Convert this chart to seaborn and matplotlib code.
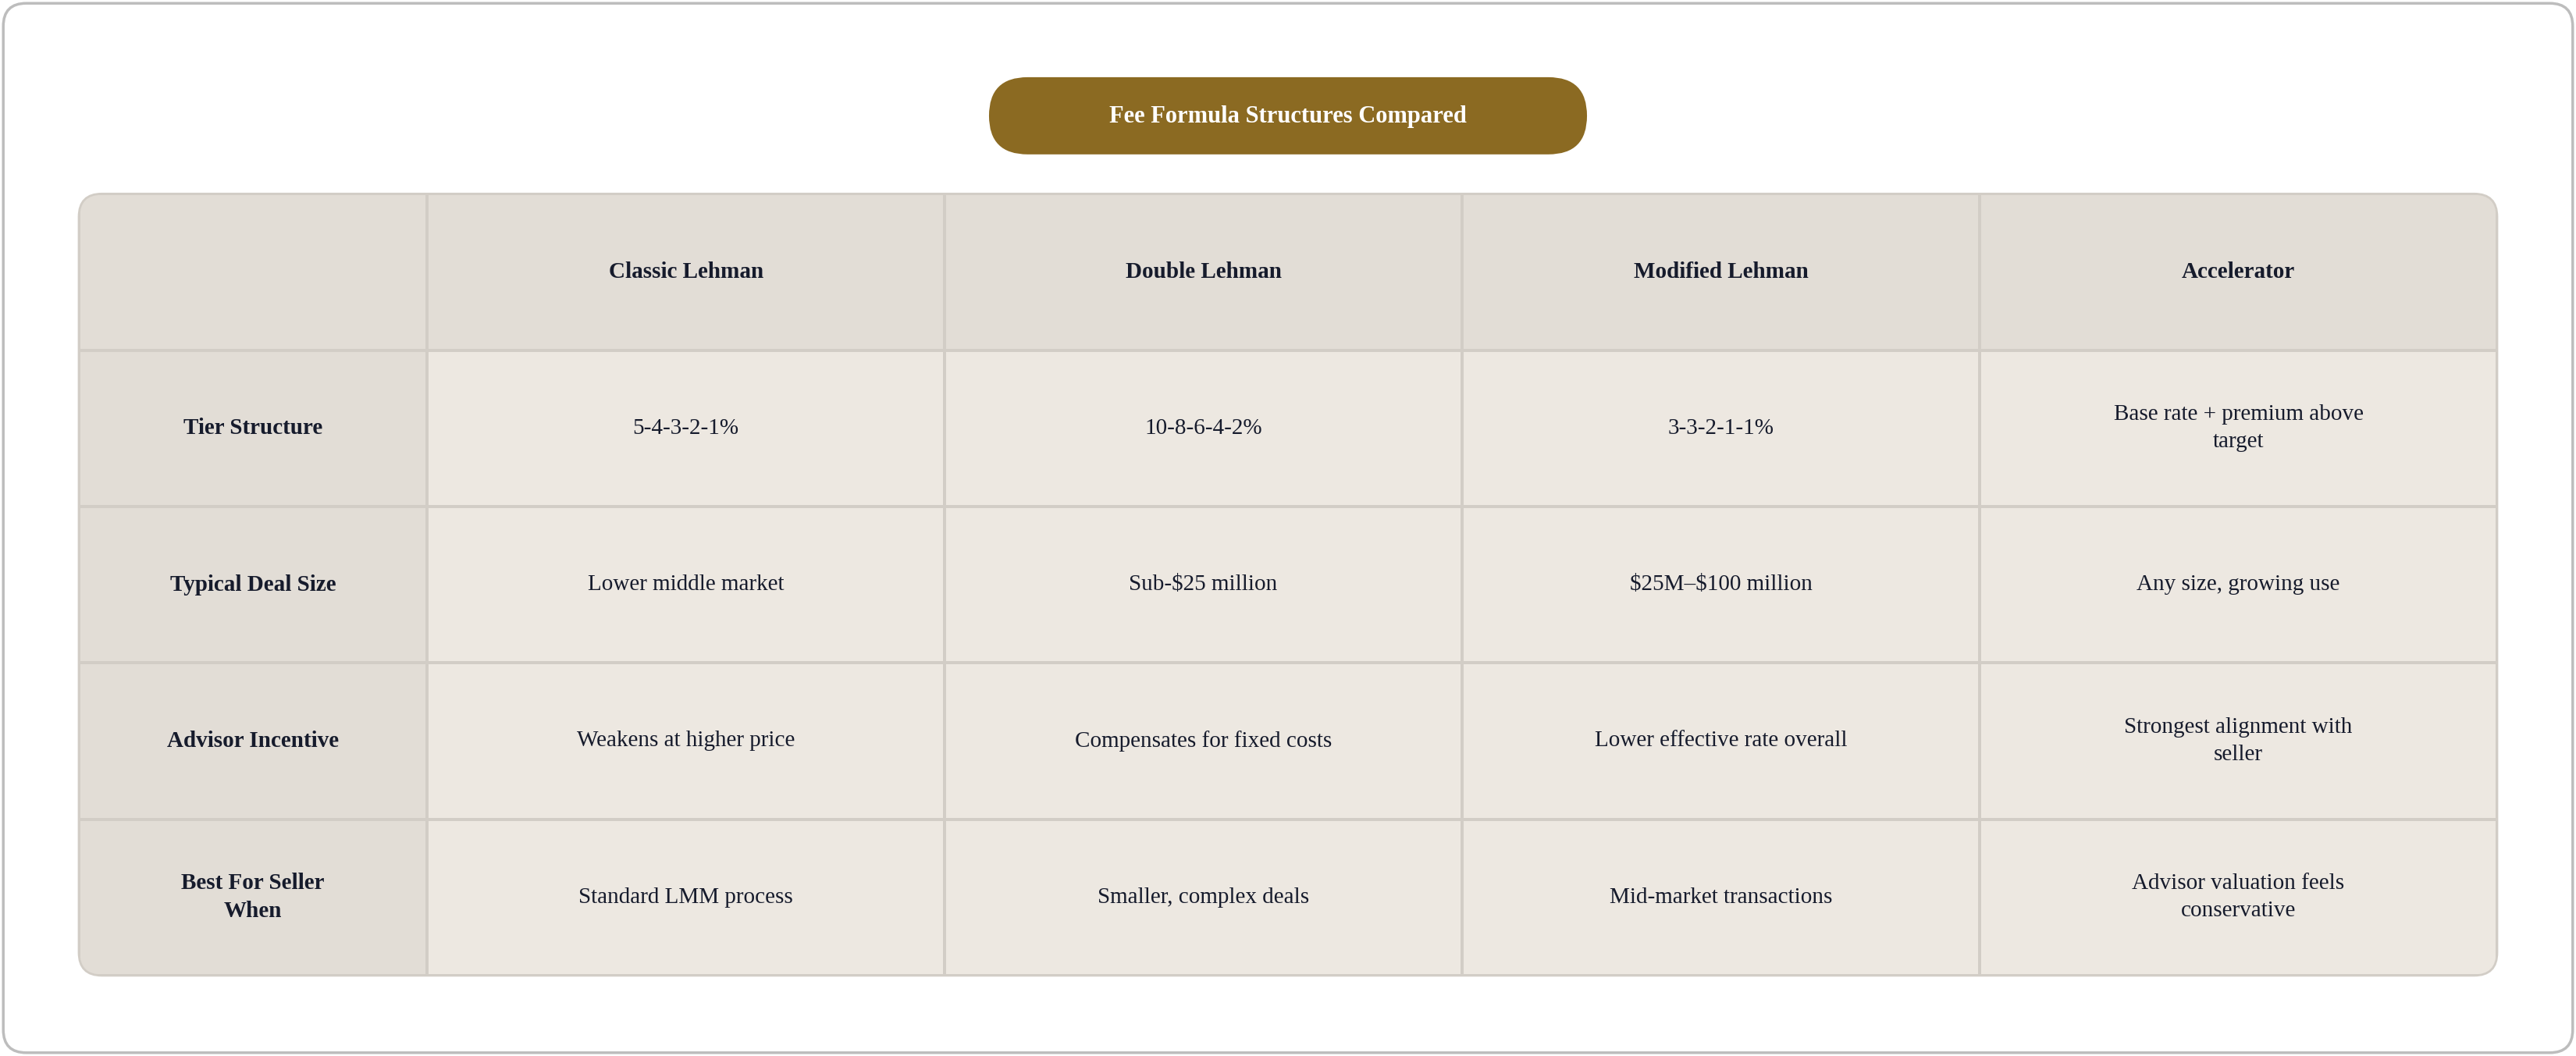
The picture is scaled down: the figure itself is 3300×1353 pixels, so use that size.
import numpy as np
import pandas as pd
import matplotlib.pyplot as plt
import seaborn as sns
from matplotlib.patches import FancyBboxPatch
from matplotlib.colors import ListedColormap

TITLE = "Fee Formula Structures Compared"
COLUMNS = ["Classic Lehman", "Double Lehman", "Modified Lehman", "Accelerator"]
ROWS = ["Tier Structure", "Typical Deal Size", "Advisor Incentive", "Best For Seller\nWhen"]
CELLS = [
    ["5-4-3-2-1%", "10-8-6-4-2%", "3-3-2-1-1%", "Base rate + premium above\ntarget"],
    ["Lower middle market", "Sub-$25 million", "$25M\u2013$100 million", "Any size, growing use"],
    ["Weakens at higher price", "Compensates for fixed costs", "Lower effective rate overall", "Strongest alignment with\nseller"],
    ["Standard LMM process", "Smaller, complex deals", "Mid-market transactions", "Advisor valuation feels\nconservative"],
]

W, H = 1568, 643  # reference layout units
fig = plt.figure(figsize=(33, 13.53), dpi=100)
bg = fig.add_axes([0, 0, 1, 1])
bg.set_xlim(0, W); bg.set_ylim(H, 0); bg.axis("off")
bg.add_patch(FancyBboxPatch((2, 2), W - 4, H - 4, boxstyle="round,pad=0,rounding_size=14",
                            fc="white", ec="#BDBDBD", lw=2.5))
bg.add_patch(FancyBboxPatch((602, 47), 364, 47, boxstyle="round,pad=0,rounding_size=23.5",
                            fc="#8B6A22", ec="none"))
bg.text(784, 71, TITLE, ha="center", va="center", color="white", fontsize=22,
        fontweight="bold", family="Liberation Serif")

# table cell shading: 0 = header/label, 1 = body
kind = np.ones((5, 5))
kind[0, :] = 0
kind[:, 0] = 0
x0, x1, y0, y1 = 48, 1520, 118, 594
ax = fig.add_axes([x0 / W, 1 - y1 / H, (x1 - x0) / W, (y1 - y0) / H])
col_w = [212, 315, 315, 315, 315]
edges = np.concatenate([[0], np.cumsum(col_w)])
ax.set_xlim(0, edges[-1]); ax.set_ylim(5, 0)
ax.axis("off")
cmap = ListedColormap(["#E2DDD6", "#EDE8E1"])
df = pd.DataFrame(kind)
mesh = ax.pcolormesh(edges, np.arange(6), df.values, cmap=cmap, vmin=0, vmax=1,
                     edgecolors="#D2CDC6", linewidth=1.5)
sns.despine(ax=ax, left=True, bottom=True)

# rounded outline of the table, in layout units on the background axes
frame = FancyBboxPatch((x0, y0), x1 - x0, y1 - y0, boxstyle="round,pad=0,rounding_size=14",
                       fc="none", ec="#D2CDC6", lw=2, transform=bg.transData, zorder=5)
fig.add_artist(frame)
mesh.set_clip_path(frame)

txt = "#161B2C"
fs = 21
centers = (edges[:-1] + edges[1:]) / 2
for j, c in enumerate(COLUMNS):
    ax.text(centers[j + 1], 0.5, c, ha="center", va="center", color=txt, fontsize=fs,
            fontweight="bold", family="Liberation Serif", parse_math=False)
for i, r in enumerate(ROWS):
    ax.text(centers[0], i + 1.5, r, ha="center", va="center", color=txt, fontsize=fs,
            fontweight="bold", family="Liberation Serif", linespacing=1.45, parse_math=False)
    for j, v in enumerate(CELLS[i]):
        ax.text(centers[j + 1], i + 1.5, v, ha="center", va="center", color=txt,
                fontsize=fs, family="Liberation Serif", linespacing=1.45, parse_math=False)

fig.savefig("out.png", dpi=100)
